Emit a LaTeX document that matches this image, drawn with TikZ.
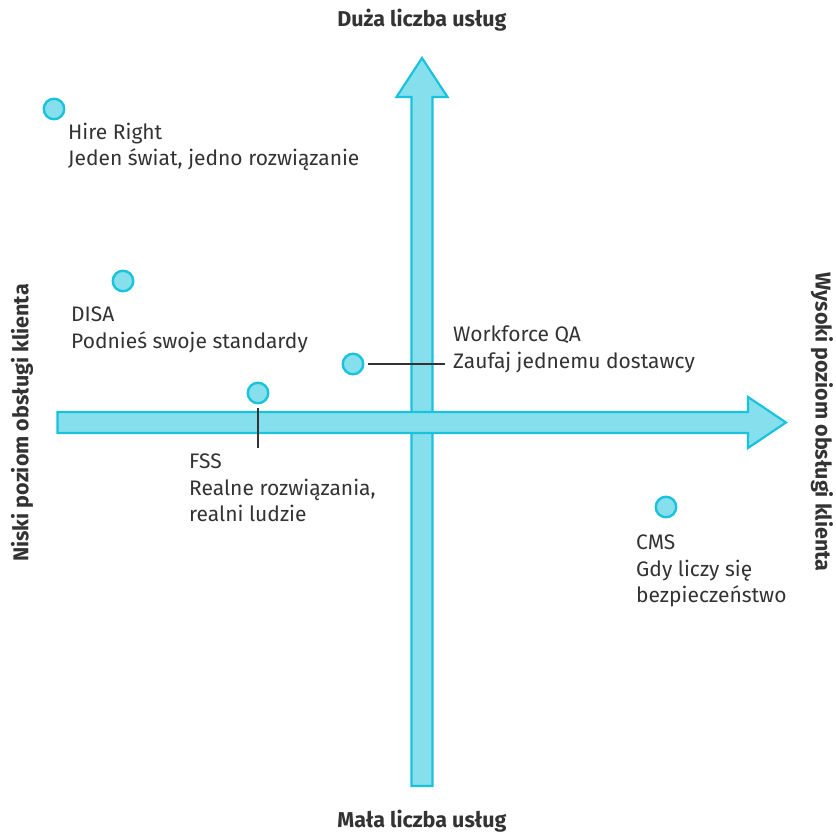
\documentclass[tikz,border=0pt]{standalone}
\usepackage{fontspec}
\setmainfont{Fira Sans}
\begin{document}
\begin{tikzpicture}[x=1pt,y=-1pt,
  axisarrow/.style={draw=arrowline, fill=arrowfill, line width=2.2pt, line join=miter},
  dot/.style={circle, draw=arrowline, fill=arrowfill, line width=2.4pt, minimum size=20.5pt, inner sep=0pt},
  label/.style={anchor=base west, align=left, inner sep=0pt, text=txt, font=\fontsize{21}{26.5}\selectfont},
  axislabel/.style={inner sep=0pt, text=txt, font=\bfseries\fontsize{21.5}{24}\selectfont},
  conn/.style={draw=txt, line width=1.6pt}]
\definecolor{arrowfill}{HTML}{86DFEC}
\definecolor{arrowline}{HTML}{1AC3DC}
\definecolor{txt}{HTML}{333333}
\useasboundingbox (0,0) rectangle (836,832);
% vertical arrow
\draw[axisarrow] (411.5,786) -- (411.5,97) -- (396.5,97) -- (422,58) -- (447.5,97) -- (432.5,97) -- (432.5,786) -- cycle;
% horizontal arrow
\draw[axisarrow] (57.5,412) -- (748,412) -- (748,397) -- (786,422.5) -- (748,448) -- (748,433) -- (57.5,433) -- cycle;
% axis labels
\node[axislabel] (top) at (422,20) {Duża liczba usług};
\node[axislabel] (bottom) at (422,821) {Mała liczba usług};
\node[axislabel, rotate=90] (left) at (22,423) {Niski poziom obsługi klienta};
\node[axislabel, rotate=-90] (right) at (822,422) {Wysoki poziom obsługi klienta};
% dots
\node[dot] (hr) at (54,109) {};
\node[dot] (disa) at (123,281) {};
\node[dot] (wf) at (353,364) {};
\node[dot] (fss) at (258,393) {};
\node[dot] (cms) at (666,507) {};
% connectors
\coordinate (wfend) at (445,364);
\coordinate (fssend) at (258,448);
\draw[conn] ([xshift=4pt]wf.east) -- (wfend);
\draw[conn] ([yshift=-4pt]fss.south) -- (fssend);
% labels (anchor at baseline of last line)
\node[label] (hrt) at (68,166) {Hire Right\\Jeden świat, jedno rozwiązanie};
\node[label] (disat) at (71,348) {DISA\\Podnieś swoje standardy};
\node[label] (wft) at (453,368) {Workforce QA\\Zaufaj jednemu dostawcy};
\node[label] (fsst) at (189,521.5) {FSS\\Realne rozwiązania,\\realni ludzie};
\node[label] (cmst) at (636,602.5) {CMS\\Gdy liczy się\\bezpieczeństwo};
\end{tikzpicture}
\end{document}
